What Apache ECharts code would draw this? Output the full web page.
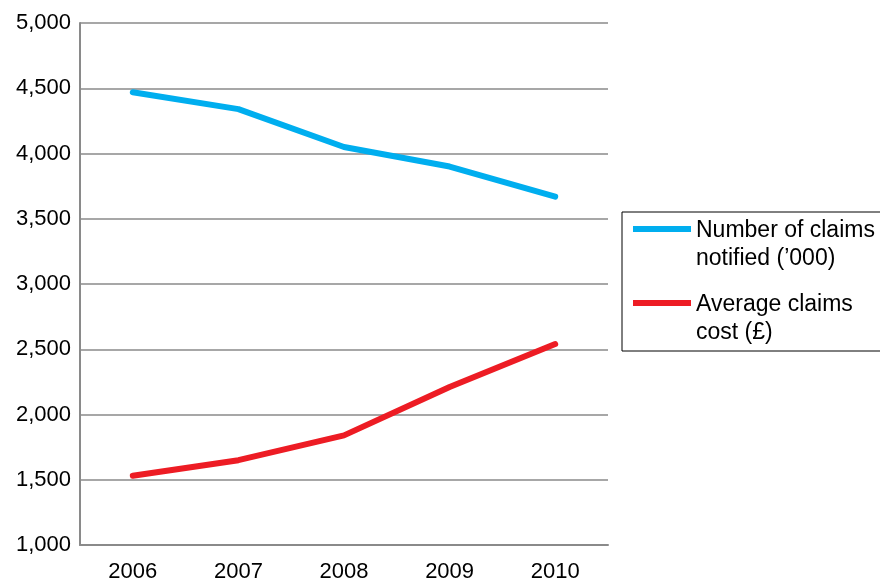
<!DOCTYPE html>
<html>
<head>
<meta charset="utf-8">
<script src="https://cdn.jsdelivr.net/npm/echarts@6/dist/echarts.min.js"></script>
<style>
  html, body { margin: 0; padding: 0; background: #fff; }
  #chart { width: 880px; height: 581px; }
</style>
</head>
<body>
<div id="chart"></div>
<script>
// Motor insurance claims, 2006-2010
const years = ['2006', '2007', '2008', '2009', '2010'];
const claimsNotified = [4470, 4340, 4050, 3900, 3670];   // '000
const averageCost = [1530, 1650, 1840, 2210, 2540];      // £
const seriesNames = ['Number of claims\nnotified (\u2019000)', 'Average claims\ncost (\u00a3)'];

const font = '"Liberation Sans", Arial, sans-serif';
// Legend swatch: a thick bar sitting at the first text line
const swatch = 'path://M0,0 M0,56 M0,9 L58,9 L58,15 L0,15 Z';

const chart = echarts.init(document.getElementById('chart'));
chart.setOption({
  animation: false,
  backgroundColor: '#ffffff',
  textStyle: { fontFamily: font },
  grid: { left: 80, right: 272, top: 23, bottom: 36, containLabel: false, outerBoundsMode: 'none' },
  legend: {
    orient: 'vertical',
    left: 622,
    top: 212,
    padding: [5, 40, 4, 11],
    itemGap: 18,
    itemWidth: 58,
    itemHeight: 56,
    borderColor: '#000000',
    borderWidth: 1,
    icon: swatch,
    textStyle: { fontSize: 23, lineHeight: 28, color: '#000000', fontFamily: font },
    data: seriesNames
  },
  xAxis: {
    type: 'category',
    data: years,
    boundaryGap: true,
    axisLine: { show: true, lineStyle: { color: '#8a8a8a', width: 2 } },
    axisTick: { show: false },
    axisLabel: { fontSize: 22, color: '#000000', margin: 16, fontFamily: font }
  },
  yAxis: {
    type: 'value',
    min: 1000,
    max: 5000,
    interval: 500,
    axisLine: { show: true, lineStyle: { color: '#8a8a8a', width: 2 } },
    axisTick: { show: false },
    axisLabel: {
      fontSize: 22, color: '#000000', margin: 9, fontFamily: font,
      formatter: v => v.toLocaleString('en-GB')
    },
    splitLine: { show: true, lineStyle: { color: '#8a8a8a', width: 1.5 } }
  },
  series: [
    {
      name: seriesNames[0],
      type: 'line',
      data: claimsNotified,
      showSymbol: false,
      symbol: 'none',
      color: '#00aeef',
      lineStyle: { width: 6, color: '#00aeef', cap: 'round', join: 'round' }
    },
    {
      name: seriesNames[1],
      type: 'line',
      data: averageCost,
      showSymbol: false,
      symbol: 'none',
      color: '#ed1c24',
      lineStyle: { width: 6, color: '#ed1c24', cap: 'round', join: 'round' }
    }
  ]
});
</script>
</body>
</html>
